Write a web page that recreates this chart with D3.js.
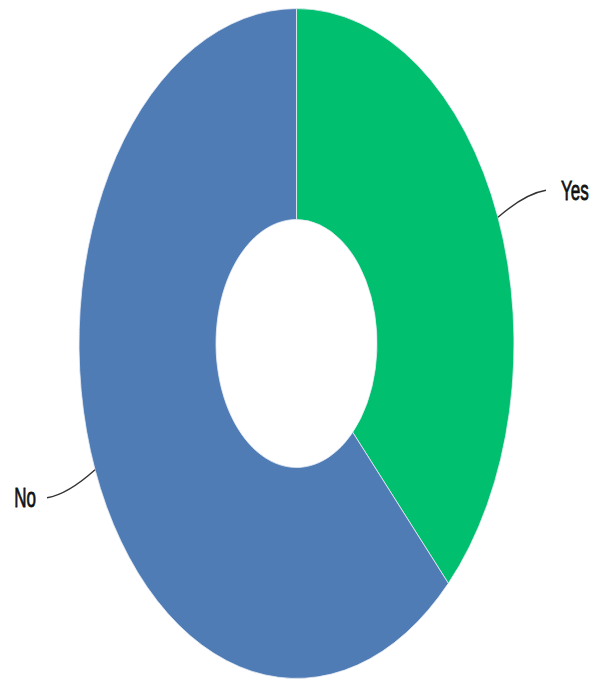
<!DOCTYPE html>
<html><head><meta charset="utf-8">
<script src="https://cdn.jsdelivr.net/npm/d3@7"></script>
<style>html,body{margin:0;padding:0;background:#fff;}svg{display:block;}</style>
</head><body>
<svg id="c" width="592" height="680"></svg>
<script>
const categories = ["Yes", "No"];
const values = [37.7, 62.3];
const colors = ["#00BF6F", "#507CB6"];

const W = 592, H = 680;
const cx = 296.5, cy = 343.5, sy = 1.54;
const R = 217.5, r = 80.5;

const svg = d3.select("#c");
const pie = d3.pie().sort(null).value(d => d.v);
const arcs = pie(categories.map((c, i) => ({c, v: values[i], col: colors[i]})));
const arc = d3.arc().innerRadius(r).outerRadius(R);

const g = svg.append("g").attr("transform", `translate(${cx},${cy}) scale(1,${sy})`);
g.selectAll("path").data(arcs).join("path")
  .attr("d", arc)
  .attr("fill", d => d.data.col)
  .attr("stroke", "#e8eef5")
  .attr("stroke-width", 0.8)
  .attr("vector-effect", "non-scaling-stroke");

// labels with curved connectors (drawn in unscaled space)
arcs.forEach(d => {
  const a = (d.startAngle + d.endAngle) / 2;
  const px = cx + Math.sin(a) * R, py = cy - Math.cos(a) * R * sy;
  const right = Math.sin(a) > 0;
  const s = right ? 1 : -1;
  const ex = px + s * 48, ey = right ? py - 27 : py + 28;
  const path = d3.path();
  path.moveTo(px, py);
  path.bezierCurveTo(px + s * 14, py + (ey - py) * 0.45, px + s * 30, ey + (right ? 3 : -3), ex, ey);
  svg.append("path").attr("d", path.toString())
    .attr("fill", "none").attr("stroke", "#333").attr("stroke-width", 1.4);
  const tx = right ? px + s * 63 : px + s * 59;
  svg.append("text")
    .attr("transform", `translate(${tx},${ey}) scale(1,1.6)`)
    .attr("text-anchor", right ? "start" : "end")
    .attr("dominant-baseline", "central")
    .attr("font-family", "Liberation Sans, Arial, sans-serif")
    .attr("font-size", 17)
    .attr("fill", "#111")
    .attr("stroke", "#111")
    .attr("stroke-width", 0.5)
    .text(d.data.c);
});
</script>
</body></html>
